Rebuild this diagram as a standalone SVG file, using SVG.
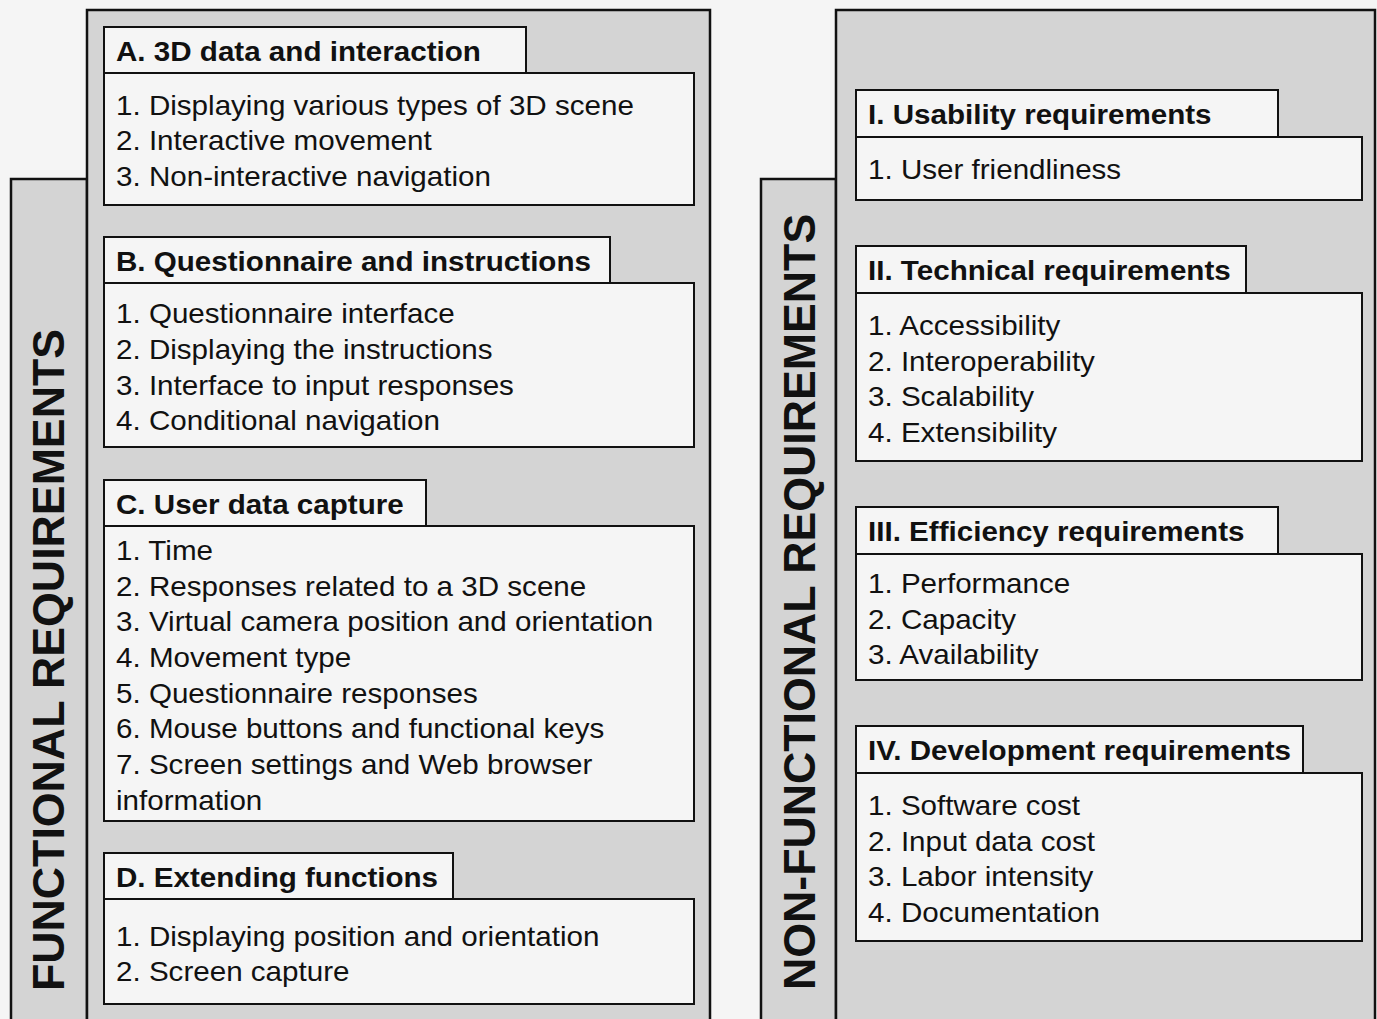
<svg xmlns="http://www.w3.org/2000/svg" width="1377" height="1019" viewBox="0 0 1377 1019">
<style>
.panel{fill:#d4d4d4;stroke:#111;stroke-width:2.5}
.box{fill:#f5f5f5;stroke:#111;stroke-width:2}
.t{font-family:"Liberation Sans",Arial,sans-serif;font-size:27px;font-weight:bold;fill:#111}
.c{font-family:"Liberation Sans",Arial,sans-serif;font-size:27px;fill:#111}
.v{font-family:"Liberation Sans",Arial,sans-serif;font-size:44.7px;font-weight:bold;fill:#111}
</style>
<rect width="1377" height="1019" fill="#f5f5f5"/>
<g id="functional-panel">
<rect class="panel" x="11" y="179" width="76" height="860"/>
<rect class="panel" x="87" y="10" width="623" height="1030"/>
<text class="v" transform="translate(64,991) rotate(-90)">FUNCTIONAL REQUIREMENTS</text>
</g>
<g id="nonfunctional-panel">
<rect class="panel" x="761" y="179" width="75" height="860"/>
<rect class="panel" x="836" y="10" width="539" height="1030"/>
<text class="v" transform="translate(815,990) rotate(-90)">NON-FUNCTIONAL REQUIREMENTS</text>
</g>
<g id="A">
<rect class="box" x="104" y="73" width="590" height="132"/>
<rect class="box" x="104" y="27" width="422" height="46"/>
<g transform="translate(116,0) scale(1.096,1)">
<text class="t" y="61">A. 3D data and interaction</text>
<text class="c" y="115">1. Displaying various types of 3D scene</text>
<text class="c" y="150.5">2. Interactive movement</text>
<text class="c" y="186">3. Non-interactive navigation</text>
</g>
</g>
<g id="B">
<rect class="box" x="104" y="283" width="590" height="164"/>
<rect class="box" x="104" y="237" width="506" height="46"/>
<g transform="translate(116,0) scale(1.096,1)">
<text class="t" y="271">B. Questionnaire and instructions</text>
<text class="c" y="323.5">1. Questionnaire interface</text>
<text class="c" y="359">2. Displaying the instructions</text>
<text class="c" y="395">3. Interface to input responses</text>
<text class="c" y="430.5">4. Conditional navigation</text>
</g>
</g>
<g id="C">
<rect class="box" x="104" y="526" width="590" height="295"/>
<rect class="box" x="104" y="480" width="322" height="46"/>
<g transform="translate(116,0) scale(1.096,1)">
<text class="t" y="514">C. User data capture</text>
<text class="c" y="560">1. Time</text>
<text class="c" y="595.7">2. Responses related to a 3D scene</text>
<text class="c" y="631.4">3. Virtual camera position and orientation</text>
<text class="c" y="667.1">4. Movement type</text>
<text class="c" y="702.8">5. Questionnaire responses</text>
<text class="c" y="738.5">6. Mouse buttons and functional keys</text>
<text class="c" y="774.2">7. Screen settings and Web browser</text>
<text class="c" y="809.9">information</text>
</g>
</g>
<g id="D">
<rect class="box" x="104" y="899" width="590" height="105"/>
<rect class="box" x="104" y="853" width="349" height="46"/>
<g transform="translate(116,0) scale(1.096,1)">
<text class="t" y="887">D. Extending functions</text>
<text class="c" y="946">1. Displaying position and orientation</text>
<text class="c" y="981.5">2. Screen capture</text>
</g>
</g>
<g id="I">
<rect class="box" x="856" y="137" width="506" height="63"/>
<rect class="box" x="856" y="90" width="422" height="47"/>
<g transform="translate(868,0) scale(1.096,1)">
<text class="t" y="124">I. Usability requirements</text>
<text class="c" y="179">1. User friendliness</text>
</g>
</g>
<g id="II">
<rect class="box" x="856" y="293" width="506" height="168"/>
<rect class="box" x="856" y="246" width="390" height="47"/>
<g transform="translate(868,0) scale(1.096,1)">
<text class="t" y="280">II. Technical requirements</text>
<text class="c" y="335">1. Accessibility</text>
<text class="c" y="370.7">2. Interoperability</text>
<text class="c" y="406.4">3. Scalability</text>
<text class="c" y="442">4. Extensibility</text>
</g>
</g>
<g id="III">
<rect class="box" x="856" y="554" width="506" height="126"/>
<rect class="box" x="856" y="507" width="422" height="47"/>
<g transform="translate(868,0) scale(1.096,1)">
<text class="t" y="541">III. Efficiency requirements</text>
<text class="c" y="593">1. Performance</text>
<text class="c" y="628.7">2. Capacity</text>
<text class="c" y="664.4">3. Availability</text>
</g>
</g>
<g id="IV">
<rect class="box" x="856" y="773" width="506" height="168"/>
<rect class="box" x="856" y="726" width="447" height="47"/>
<g transform="translate(868,0) scale(1.096,1)">
<text class="t" y="760">IV. Development requirements</text>
<text class="c" y="815">1. Software cost</text>
<text class="c" y="850.7">2. Input data cost</text>
<text class="c" y="886.4">3. Labor intensity</text>
<text class="c" y="922">4. Documentation</text>
</g>
</g>
<g id="connectors"/>
</svg>
